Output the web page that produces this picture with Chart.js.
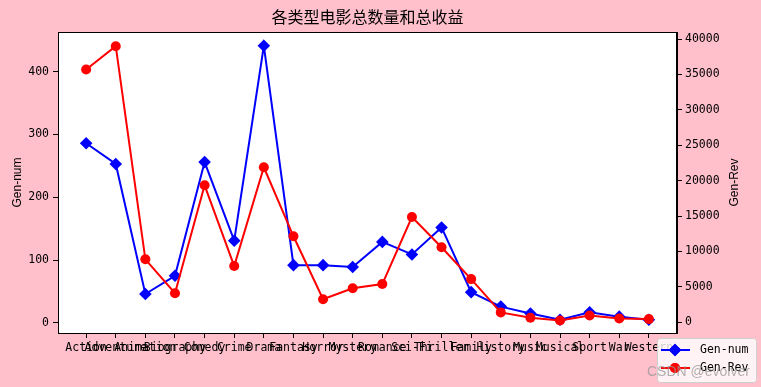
<!DOCTYPE html>
<html><head><meta charset="utf-8">
<script src="https://cdn.jsdelivr.net/npm/chart.js@4.4.0/dist/chart.umd.min.js"></script>
<style>html,body{margin:0;padding:0;background:#FFC0CB;}#wrap{width:761px;height:387px;position:relative;}</style>
</head><body><div id="wrap"><canvas id="c" width="761" height="387"></canvas></div>
<script>
const chartTitle = '各类型电影总数量和总收益';
const categories = ['Action','Adventure','Animation','Biography','Comedy','Crime','Drama','Fantasy','Horror','Mystery','Romance','Sci-Fi','Thriller','Family','History','Music','Musical','Sport','War','Western'];
const genNum = [286,253,46,75,256,131,441,92,92,89,129,109,152,49,26,15,5,17,10,5];
const genRev = [35700,39000,8900,4100,19350,7950,21900,12150,3250,4800,5400,14870,10600,6100,1400,650,250,950,550,450];
const numTicks = [0,100,200,300,400];
const revTicks = [0,5000,10000,15000,20000,25000,30000,35000,40000];
const seriesNames = ['Gen-num','Gen-Rev'];

const monoFont = {family:'"DejaVu Sans Mono", "Noto Sans CJK SC", monospace', size:11.5};
const labelFont = {family:'"Liberation Sans", "Noto Sans", sans-serif', size:12};

const deco = {
  id:'deco',
  beforeDraw(chart){
    const {ctx, chartArea:a} = chart;
    ctx.save();
    ctx.fillStyle = '#fff';
    ctx.fillRect(a.left, a.top, a.right-a.left, a.bottom-a.top);
    ctx.restore();
  },
  afterDraw(chart){
    const {ctx, chartArea:a} = chart;
    ctx.save();
    ctx.strokeStyle = '#000'; ctx.lineWidth = 1;
    ctx.strokeRect(Math.round(a.left)+0.5, Math.round(a.top)+0.5, Math.round(a.right-a.left)-1, Math.round(a.bottom-a.top));
    ctx.fillStyle = '#000';
    ctx.font = '16px "Noto Sans CJK SC", sans-serif';
    ctx.textAlign = 'center'; ctx.textBaseline = 'middle';
    ctx.fillText(chartTitle, (a.left+a.right)/2, 17);
    ctx.save();
    ctx.translate(735, (a.top+a.bottom)/2);
    ctx.rotate(-Math.PI/2);
    ctx.font = '12px "Liberation Sans", sans-serif';
    ctx.fillText(seriesNames[1], 0, 0);
    ctx.restore();
    const bx=657, by=338, bw=99, bh=44;
    ctx.fillStyle = 'rgba(255,255,255,0.8)';
    ctx.strokeStyle = '#d0d0d0';
    ctx.beginPath();
    if (ctx.roundRect) ctx.roundRect(bx+0.5, by+0.5, bw, bh, 3); else ctx.rect(bx+0.5, by+0.5, bw, bh);
    ctx.fill(); ctx.stroke();
    const rows = [{y:350,color:'#0000FF',style:'rectRot',r:6.3,name:seriesNames[0]},{y:368,color:'#FF0000',style:'circle',r:5,name:seriesNames[1]}];
    rows.forEach(row=>{
      ctx.strokeStyle=row.color; ctx.lineWidth=2;
      ctx.beginPath(); ctx.moveTo(661,row.y); ctx.lineTo(690,row.y); ctx.stroke();
      ctx.fillStyle=row.color;
      Chart.helpers.drawPoint(ctx,{pointStyle:row.style,radius:row.r,borderWidth:0},675,row.y);
      ctx.fill();
      ctx.fillStyle='#000';
      ctx.font='11.5px "DejaVu Sans Mono", monospace';
      ctx.textAlign='left'; ctx.textBaseline='middle';
      ctx.fillText(row.name, 700, row.y);
    });
    ctx.fillStyle='rgba(150,150,150,0.75)';
    ctx.font='14px "Liberation Sans", sans-serif';
    ctx.textAlign='left'; ctx.textBaseline='middle';
    ctx.fillText('CSDN @evolver', 647, 372);
    ctx.restore();
  }
};

new Chart(document.getElementById('c'), {
  type:'line',
  data:{
    datasets:[
      {label:seriesNames[0], data:genNum.map((v,i)=>({x:i,y:v})), yAxisID:'y', borderColor:'#0000FF', backgroundColor:'#0000FF', borderWidth:2, pointStyle:'rectRot', pointRadius:6.3, pointBorderWidth:0, order:2, tension:0},
      {label:seriesNames[1], data:genRev.map((v,i)=>({x:i,y:v})), yAxisID:'y1', borderColor:'#FF0000', backgroundColor:'#FF0000', borderWidth:2, pointStyle:'circle', pointRadius:5, pointBorderWidth:0, order:1, tension:0}
    ]
  },
  options:{
    responsive:false, animation:false, devicePixelRatio:1,
    layout:{padding:{top:32,left:0,right:0,bottom:0}},
    plugins:{legend:{display:false}, tooltip:{enabled:false}, title:{display:false}},
    scales:{
      x:{type:'linear', min:-0.95, max:categories.length-1+0.95,
        afterBuildTicks:s=>{s.ticks=categories.map((c,i)=>({value:i}));},
        afterFit:s=>{s.height=54;},
        ticks:{autoSkip:false, maxRotation:0, minRotation:0, color:'#000', font:monoFont, padding:3, callback:(v)=>categories[Math.round(v)]},
        grid:{drawOnChartArea:false, drawTicks:true, tickLength:5, tickColor:'#000'},
        border:{display:true, color:'#000'}
      },
      y:{type:'linear', position:'left', min:-16, max:463,
        afterBuildTicks:s=>{s.ticks=numTicks.map(v=>({value:v}));},
        afterFit:s=>{s.width=58;},
        ticks:{color:'#000', font:monoFont, padding:4, callback:v=>String(v)},
        grid:{drawOnChartArea:false, drawTicks:true, tickLength:5, tickColor:'#000'},
        border:{display:true, color:'#000'},
        title:{display:true, text:seriesNames[0], color:'#000', font:labelFont, padding:{top:10,bottom:0}}
      },
      y1:{type:'linear', position:'right', min:-1510, max:41000,
        afterBuildTicks:s=>{s.ticks=revTicks.map(v=>({value:v}));},
        afterFit:s=>{s.width=84;},
        ticks:{color:'#000', font:monoFont, padding:3, callback:v=>String(v)},
        grid:{drawOnChartArea:false, drawTicks:true, tickLength:5, tickColor:'#000'},
        border:{display:true, color:'#000'}
      }
    }
  },
  plugins:[deco]
});
</script></body></html>
